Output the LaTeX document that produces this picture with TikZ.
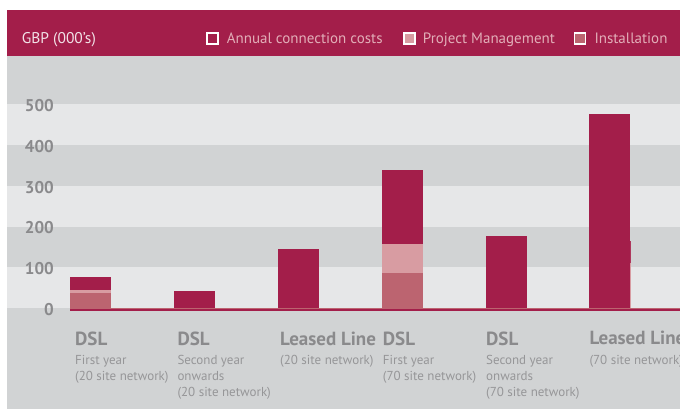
\documentclass[tikz,border=0pt]{standalone}
\usepackage{fontspec}
\setmainfont{PT Sans}
\definecolor{mag}{RGB}{163,30,74}
\definecolor{pm}{RGB}{216,156,162}
\definecolor{inst}{RGB}{188,100,112}
\definecolor{bdark}{RGB}{209,211,212}
\definecolor{blight}{RGB}{230,231,232}
\definecolor{lblgrey}{RGB}{138,138,140}
\definecolor{subgrey}{RGB}{150,150,152}
\definecolor{legtxt}{RGB}{226,174,184}
\definecolor{hdrtxt}{RGB}{242,226,231}
\tikzset{
  hdr/.style={anchor=base west,inner sep=0pt,text=hdrtxt,font=\fontsize{15.5}{18}\selectfont},
  legtext/.style={anchor=base west,inner sep=0pt,text=legtxt,font=\fontsize{15}{18}\selectfont},
  legbox/.style={draw=white,line width=1.2pt},
  ylab/.style={anchor=east,inner sep=0pt,text=lblgrey,font=\bfseries\fontsize{17}{20}\selectfont},
  xtitle/.style={anchor=base west,inner sep=0pt,text=lblgrey,font=\bfseries\fontsize{19}{22}\selectfont},
  xsub/.style={anchor=base west,inner sep=0pt,text=subgrey,align=left,font=\fontsize{13}{16}\selectfont},
}
\begin{document}
\begin{tikzpicture}[x=1pt,y=-1pt]
\useasboundingbox (0,0) rectangle (680,409);
\fill[white] (0,0) rectangle (680,409);
% plot background bands
\fill[bdark] (6.5,56) rectangle (680,409);
\foreach \a in {104,186,267} \fill[blight] (6.5,\a) rectangle (680,\a+41);
% header
\fill[mag] (6.5,10) rectangle (680,56);
\node[hdr] (gbp) at (21.7,44) {GBP (000’s)};
\draw[legbox,fill=mag] (207,33) rectangle (218,44);
\node[legtext] (l1) at (226.7,44) {Annual connection costs};
\draw[legbox,fill=pm] (404,33) rectangle (415,44);
\node[legtext] (l2) at (422.7,44) {Project Management};
\draw[legbox,fill=inst] (574.5,33) rectangle (585.5,44);
\node[legtext] (l3) at (594.3,44) {Installation};
% y labels
\foreach \v in {0,100,200,300,400,500}
  \node[ylab] (y\v) at (54,{308-0.408*\v+1.5}) {\v};
% bars: x, installation top, pm top, total top
\foreach \x/\i/\p/\t in {70/37.5/44/76, 174/0/0/42, 278/0/0/145, 382/86/157/338, 486/0/0/176, 589/0/0/475}{
  \fill[mag] (\x,308) rectangle (\x+41,{308-0.408*\t});
  \fill[pm] (\x,308) rectangle (\x+41,{308-0.408*\p});
  \fill[inst] (\x,308) rectangle (\x+41,{308-0.408*\i});
}
\fill[pm] (630,263) rectangle (631,308);
\fill[mag!80!pm] (630,241) rectangle (631,263);
% axis line
\fill[inst] (70,307.8) rectangle (680,308.8);
\fill[mag] (70,308.8) rectangle (680,310.8);
% x labels (multi-line nodes are placed by the baseline of their last line)
\node[xtitle] (t1) at (75,345) {DSL};
\node[xsub] (s1) at (75,380.3) {First year\\(20 site network)};
\node[xtitle] (t2) at (177.3,345) {DSL};
\node[xsub] (s2) at (177.3,396.3) {Second year\\onwards\\(20 site network)};
\node[xtitle] (t3) at (280,345) {Leased Line};
\node[xsub] (s3) at (280,364.3) {(20 site network)};
\node[xtitle] (t4) at (382.7,345) {DSL};
\node[xsub] (s4) at (382.7,380.3) {First year\\(70 site network)};
\node[xtitle] (t5) at (486,345) {DSL};
\node[xsub] (s5) at (486,396.3) {Second year\\onwards\\(70 site network)};
\node[xtitle] (t6) at (589.3,344) {Leased Line};
\node[xsub] (s6) at (589.3,364.3) {(70 site network)};
\end{tikzpicture}
\end{document}
